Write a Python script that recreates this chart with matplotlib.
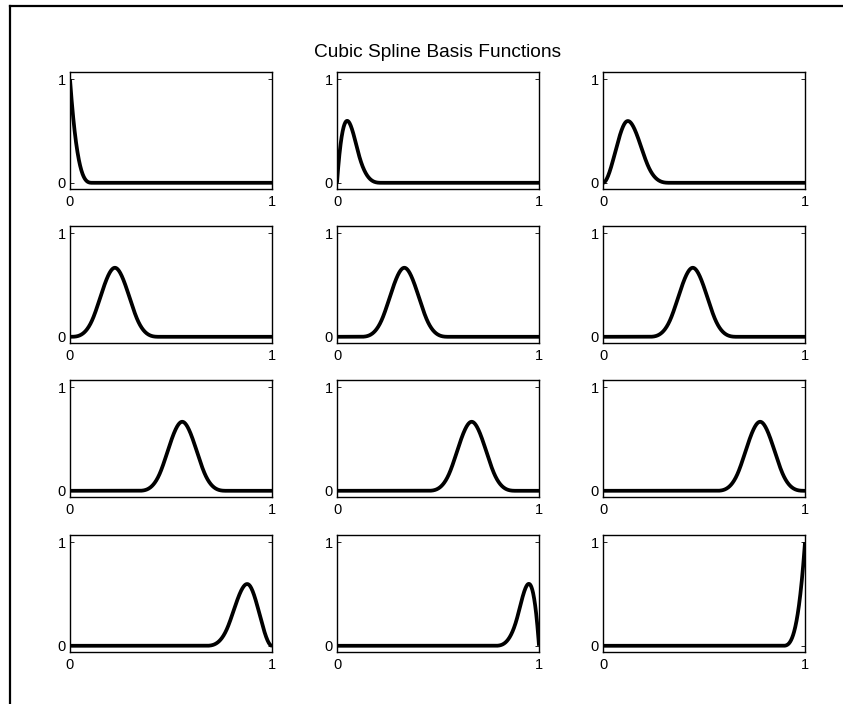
import numpy as np
import matplotlib
matplotlib.use("Agg")
import matplotlib.pyplot as plt
from matplotlib.lines import Line2D

plt.rcParams['font.family'] = ['Liberation Sans', 'DejaVu Sans']

# cubic spline basis: degree and breakpoints on [0, 1]
degree = 3
breaks = [0.0, 1/9, 2/9, 3/9, 4/9, 5/9, 6/9, 7/9, 8/9, 1.0]
tick_vals = [0, 1]
tick_labels = ['0', '1']
title = "Cubic Spline Basis Functions"


def bspline_basis(x, knots, i, k):
    " Cox-de Boor recursion for basis i of degree k "
    if k == 0:
        b = ((x >= knots[i]) & (x < knots[i+1])).astype(float)
        # close the last non-empty interval at the right end
        if knots[i+1] == knots[-1] and knots[i] < knots[i+1]:
            b[x == knots[-1]] = 1.0
        return b
    out = np.zeros_like(x)
    d1 = knots[i+k] - knots[i]
    d2 = knots[i+k+1] - knots[i+1]
    if d1 > 0:
        out += (x - knots[i]) / d1 * bspline_basis(x, knots, i, k-1)
    if d2 > 0:
        out += (knots[i+k+1] - x) / d2 * bspline_basis(x, knots, i+1, k-1)
    return out


knots = [breaks[0]]*degree + breaks + [breaks[-1]]*degree
nbasis = len(knots) - degree - 1
x = np.linspace(0, 1, 1001)

fig = plt.figure(figsize=(8.43, 7.04), dpi=100)

lefts = [70/843, 337/843, 603/843]
bottoms = [1 - 189/704, 1 - 343/704, 1 - 497/704, 1 - 652/704]
w, h = 202/843, 117/704

for n in range(nbasis):
    r, c = divmod(n, 3)
    ax = fig.add_axes([lefts[c], bottoms[r], w, h])
    ax.plot(x, bspline_basis(x, knots, n, degree), color='black', lw=2.7,
            solid_capstyle='butt')
    ax.set_xlim(0, 1)
    ax.set_ylim(-0.06, 1.07)
    ax.set_xticks(tick_vals)
    ax.set_xticklabels(tick_labels)
    ax.set_yticks(tick_vals)
    ax.set_yticklabels(tick_labels)
    ax.tick_params(direction='in', length=3, width=0.6, top=True, right=True,
                   labelsize=10.5, pad=3)
    ax.tick_params(axis='x', pad=4.5)
    for s in ax.spines.values():
        s.set_linewidth(1.0)

fig.text((337 + 538)/2/843, 1 - 57/704, title, ha='center', va='baseline', fontsize=13.8)

# page frame (left and top edges)
fig.add_artist(Line2D([10/843, 10/843], [0, 1 - 6/704], transform=fig.transFigure,
                      color='black', lw=1.6))
fig.add_artist(Line2D([10/843, 1], [1 - 6/704, 1 - 6/704], transform=fig.transFigure,
                      color='black', lw=1.6))

fig.savefig('out.png', dpi=100)
